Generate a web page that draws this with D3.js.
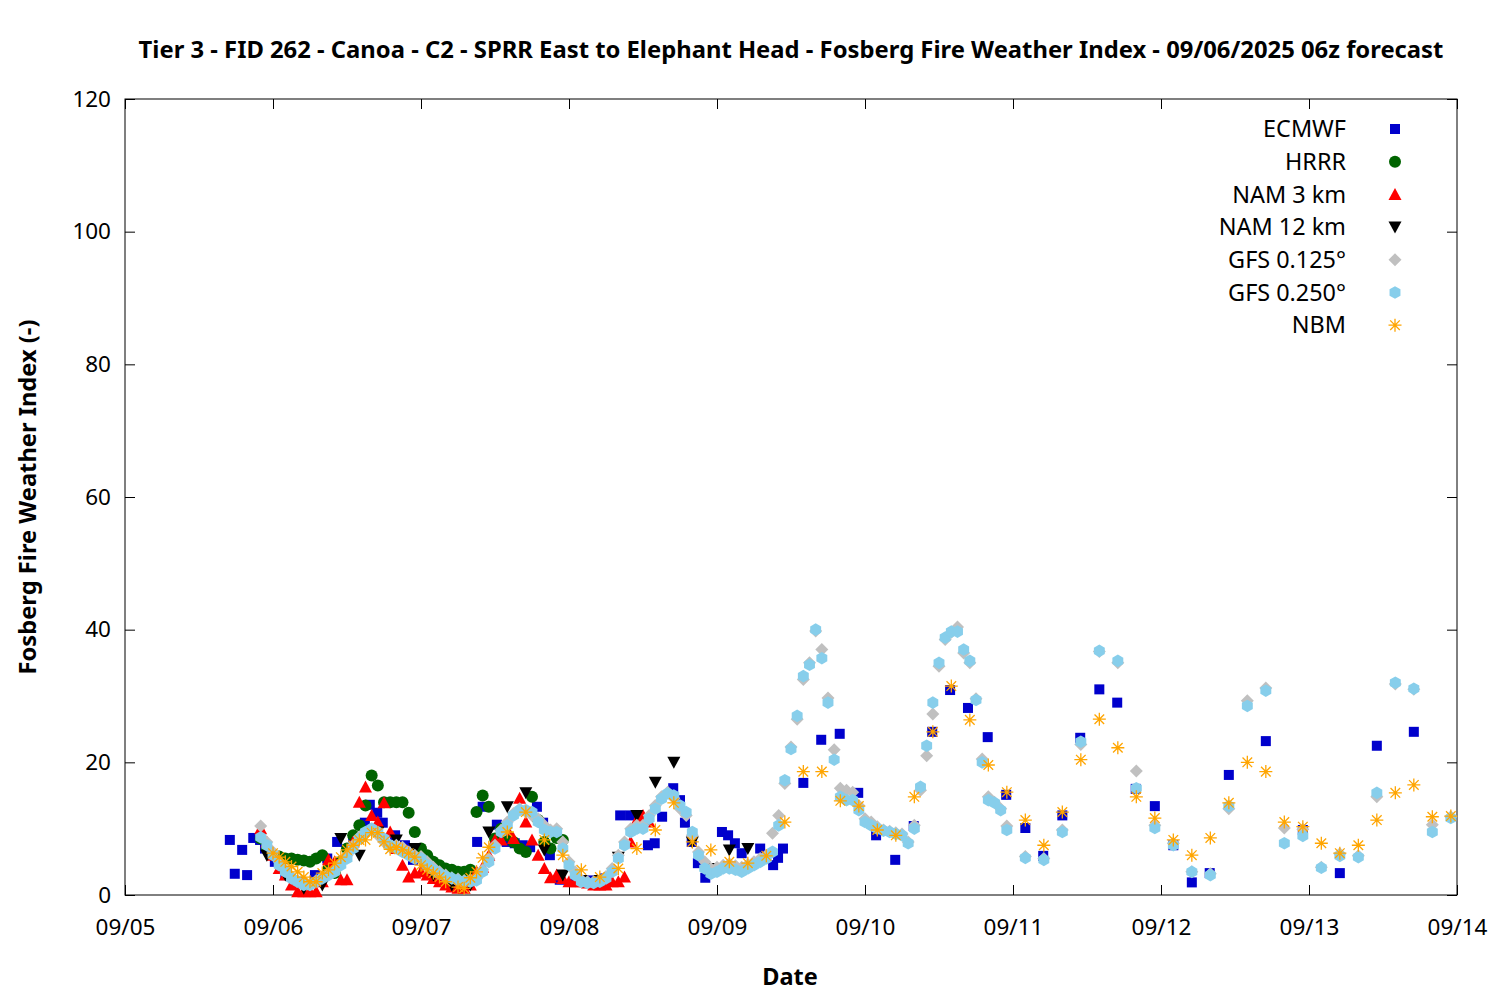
<!DOCTYPE html>
<html><head><meta charset="utf-8">
<script src="https://cdn.jsdelivr.net/npm/d3@7"></script>
<style>body{margin:0;background:#fff}</style></head>
<body><svg id="c" width="1500" height="1000"></svg>
<script>
// hours since 09/05 00z
const xTickLabels = ["09/05","09/06","09/07","09/08","09/09","09/10","09/11","09/12","09/13","09/14"];
const yTicks = [0,20,40,60,80,100,120];
const seriesNames = ["ECMWF","HRRR","NAM 3 km","NAM 12 km","GFS 0.125°","GFS 0.250°","NBM"];

const ecmwf = [[17,8.3],[17.8,3.2],[19,6.8],[19.8,3],[20.8,8.6],[21.9,8.3],[22.7,7],[24.3,5],[26,3],[28.4,2],[30.8,3],[32.8,5.5],[34.4,8],[37,8.7],[38.9,10.9],[39.7,13.6],[40.9,12.4],[41.8,10.9],[43.8,9],[45.4,7.5],[46.7,5.3],[48.6,4.5],[51,3],[53.5,2],[55.1,2.5],[57.1,8],[58,13.3],[60.3,10.6],[61.9,8],[63.2,7.8],[64.5,7.5],[65.7,7.2],[66.8,13.3],[67.8,10.9],[68.9,6],[70.5,2.3],[73,2],[75.4,2.2],[77.8,2.5],[80.3,12],[81.9,12],[84.8,7.5],[85.9,7.8],[87.1,11.8],[88.9,16.1],[90,14.3],[90.8,10.9],[91.9,8],[92.9,4.8],[94.1,2.6],[96.8,9.5],[97.8,9],[98.9,7.8],[100,6.3],[103,7],[105.1,4.5],[105.9,5.6],[106.7,7],[110,16.9],[112.9,23.4],[115.9,24.3],[118.9,15.4],[121.8,9],[124.9,5.3],[127.9,10.4],[130.9,24.6],[133.8,30.9],[136.7,28.2],[139.9,23.8],[142.9,15.1],[146,10.1],[148.9,5.9],[152,12],[154.9,23.7],[158,31],[160.9,29],[163.9,16],[167,13.4],[170,7.5],[173,1.9],[175.9,3.3],[179,18.1],[185,23.2],[191,9.8],[197,3.3],[203,22.5],[209,24.6]];

const hrrrStart = 22;
const hrrrValues = [8.5,7,6,5.8,5.5,5.5,5.3,5.2,5,5.5, 6,4,3.3,5,7,9,10.5,13.5,18,16.5, 14,14,14,14,12.4,9.5,7,6,5,4.5, 4,3.8,3.5,3.5,3.8,12.5,15,13.3,8.5,10, 9,8,7,6.5,14.8,11.3,8,7,8.6,8.3];

const nam3Start = 22;
const nam3Values = [10,8,6,4,3,1.5,0.5,0.5,0.5,0.5, 2,5.3,5,2.3,2.3,8,14,16.3,12,11, 13.9,9.5,7,4.5,2.7,3.3,3.5,3,2.5,2, 1.5,1.2,1,1,1.5,3.5,4.2,6,8.3,8.3, 9.8,8.5,14.6,11,8.3,6,4,2.6,3,2.5, 2,2,2,1.8,1.5,1.5,1.5,2,2,2.7, 8,11.3,12,11];

const nam12Start = 23;
const nam12Values = [6,3,1,1.5,8.5,6,9.5,8.3,7,3,1.5,1.5,9.5,13.3,15.4,6.8,3,2.2,2.2,5.7,12,17,20,8,4,6.8,7];

const gfs125Hourly = [10.4,8,6.5,5,3.8,2.8,2.2,1.8,1.6,2.2,2.8,3.3,3.8,4.8,6,7.5,8.8,9.2,9.8,9,8,7.2,7.5,7.2,6.5,6,
 5.8,5,4.2,3.5,3,2.6,2.4,2.2,2.3,2.5,3.8,5.5,7.5,9.8,11,12.3,13,12.5,12,11.5,10.5,9.8,10,8,
 5,3.5,2.3,2,2,2.2,2.8,4,6,8,10,10.5,10.5,12,13.5,14.8,15.5,14.6,13,12,9,6.5,5,4,4.2,4.5,4.7,4.4,4.2,4.6,5,5.5,6,9.3,
 12,16.8,22.3,26.5,32.5,35,39.8,37,29.7,21.9,16.1,15.8,15.5,13.5,11.5,11,10.3,9.8,9.6,9.4,9.2,8,10.5,15.8,21,27.3,34.5,38.5,39.6,40.4,36.5,35,29.6,20.5,14.8,14,13,10.4];
const gfs125ThreeHourly = [5.8,5.5,9.8,22.7,36.7,35,18.7,10.5,7.8,3.5,3.2,13,29.3,31.2,10.1,9.9,4.2,6.2,5.9,14.8,31.8,31,10.6,11.8];

const gfs250Hourly = [8.7,7.5,6,4.5,3.5,2.5,2,1.5,1.5,2,2.5,3,3.5,4.5,5.5,7,8.5,9.5,10,9.5,8.5,7.5,7,6.5,6,5.5,
 5.5,4.5,3.8,3.2,2.8,2.5,2.2,2,2,2.2,3.5,5,7,9.5,10.5,12,12.8,12.8,12.5,11,9.8,9.5,9.5,7,
 4.5,3,2,1.8,1.8,2,2.5,3.5,5.5,7.5,9.5,10,10,11.5,13,14.5,15.3,15,13.5,12.5,9.5,6,4,3.2,3.5,4,4,3.8,3.5,4,4.5,5,5.5,6.5,
 10.5,17.3,22,27,33,34.7,40,35.7,29,20.4,14.8,14.3,14.3,12.8,11,10.5,10,9.7,9.5,9.2,9,7.8,10,16.3,22.5,29,35,38.8,39.7,39.7,37,35.3,29.4,20,14.3,13.9,12.8,9.8];
const gfs250ThreeHourly = [5.6,5.3,9.5,23.1,36.8,35.3,16.1,10.1,7.5,3.5,3,13.4,28.5,30.8,7.8,8.9,4.1,5.9,5.7,15.4,32,31.1,9.5,11.6];
const gfsHourlyStart = 22, gfsThreeStart = 146;

const nbm = [[24,6.3],[25,5.7],[26,5],[27,4.3],[28,3.5],[29,2.7],[30,2],[31,2],[32,3.3],[33,3.8],[34,4.8],[35,5.7],[36,6.8],[37,7.5],[38,8.3],[39,8.3],[40,9.4],[41,9.4],[42,8],[43,6.9],[44,7.2],[45,6.8],[46,6.3],[47,5.7],[48,4.5],[49,3.8],[50,3.3],[51,2.7],[52,2],[54,1.2],[55,1],[56,2.6],[57,3.5],[58,5.6],[59,7.2],[62,9.5],[65,12.5],[68,8.3],[71,6],[74,3.8],[77,2.7],[80,4],[83,7],[86,9.8],[89,13.9],[92,8],[95,6.8],[98,5],[101,4.8],[104,5.9],[107,11],[110,18.6],[113,18.6],[116,14.2],[119,13.4],[122,9.8],[125,9],[128,14.8],[131,24.6],[134,31.5],[137,26.4],[140,19.6],[143,15.5],[146,11.3],[149,7.5],[152,12.5],[155,20.4],[158,26.5],[161,22.2],[164,14.8],[167,11.6],[170,8.3],[173,6],[176,8.6],[179,13.9],[182,20],[185,18.6],[188,11],[191,10.3],[194,7.8],[197,6.3],[200,7.5],[203,11.3],[206,15.4],[209,16.6],[212,11.8],[215,11.9]];

const hourly = (start, vals) => vals.map((v,i)=>[start+i, v]);
const every3 = (start, vals) => vals.map((v,i)=>[start+3*i, v]);

const data = [
  {name:seriesNames[0], pts: ecmwf, shape:"square", color:"#0000cc"},
  {name:seriesNames[1], pts: hourly(hrrrStart, hrrrValues), shape:"circle", color:"#006400"},
  {name:seriesNames[2], pts: hourly(nam3Start, nam3Values), shape:"tri", color:"#ff0000"},
  {name:seriesNames[3], pts: every3(nam12Start, nam12Values), shape:"tridown", color:"#000000"},
  {name:seriesNames[4], pts: hourly(gfsHourlyStart, gfs125Hourly).concat(every3(gfsThreeStart, gfs125ThreeHourly)), shape:"diamond", color:"#c0c0c0"},
  {name:seriesNames[5], pts: hourly(gfsHourlyStart, gfs250Hourly).concat(every3(gfsThreeStart, gfs250ThreeHourly)), shape:"hex", color:"#87ceeb"},
  {name:seriesNames[6], pts: nbm, shape:"star", color:"#ffa500"}
];

const L=125, R=1457, T=99, B=895;
const x = d3.scaleLinear().domain([0,216]).range([L,R]);
const y = d3.scaleLinear().domain([0,120]).range([B,T]);
const svg = d3.select("#c");
const font = "'Noto Sans', 'DejaVu Sans', sans-serif";

function mark(g, shape, color){
  if(shape==="square") g.append("rect").attr("x",-5).attr("y",-5).attr("width",10).attr("height",10).attr("fill",color);
  else if(shape==="circle") g.append("circle").attr("r",6).attr("fill",color);
  else if(shape==="tri") g.append("path").attr("d","M0,-6.5L6.5,5.5L-6.5,5.5Z").attr("fill",color);
  else if(shape==="tridown") g.append("path").attr("d","M0,6.5L6.5,-5.5L-6.5,-5.5Z").attr("fill",color);
  else if(shape==="diamond") g.append("path").attr("d","M0,-6.5L6.5,0L0,6.5L-6.5,0Z").attr("fill",color);
  else if(shape==="hex") g.append("path").attr("d",d3.line()(d3.range(6).map(i=>[6.3*Math.cos(i*Math.PI/3+Math.PI/6),6.3*Math.sin(i*Math.PI/3+Math.PI/6)]))+"Z").attr("fill",color);
  else if(shape==="star"){
    g.append("path").attr("d","M-6.5,0H6.5M0,-6.5V6.5M-4.8,-4.8L4.8,4.8M-4.8,4.8L4.8,-4.8").attr("stroke",color).attr("stroke-width",1.3).attr("fill","none");
  }
}

const xAxisB = d3.axisBottom(x).tickValues(d3.range(0,217,24)).tickFormat((d,i)=>xTickLabels[i]).tickSizeInner(-10).tickSizeOuter(0).tickPadding(24);
const xAxisT = d3.axisTop(x).tickValues(d3.range(0,217,24)).tickFormat("").tickSizeInner(-10).tickSizeOuter(0);
const yAxisL = d3.axisLeft(y).tickValues(yTicks).tickSizeInner(-10).tickSizeOuter(0).tickPadding(14);
const yAxisR = d3.axisRight(y).tickValues(yTicks).tickFormat("").tickSizeInner(-10).tickSizeOuter(0);
function styl(g){g.select(".domain").remove(); g.selectAll("text").attr("font-family",font).attr("font-size",22.5).attr("fill","#000"); g.selectAll("line").attr("stroke","#000");}
svg.append("g").attr("transform",`translate(0,${B})`).call(xAxisB).call(styl);
svg.append("g").attr("transform",`translate(0,${T})`).call(xAxisT).call(styl);
svg.append("g").attr("transform",`translate(${L},0)`).call(yAxisL).call(styl);
svg.append("g").attr("transform",`translate(${R},0)`).call(yAxisR).call(styl);
svg.append("rect").attr("x",L).attr("y",T).attr("width",R-L).attr("height",B-T).attr("fill","none").attr("stroke","#000");

const pg = svg.append("g");
data.forEach(s=>{
  s.pts.forEach(p=>{
    const g = pg.append("g").attr("transform",`translate(${x(p[0])},${y(p[1])})`);
    mark(g, s.shape, s.color);
  });
});

data.forEach((s,i)=>{
  const yy = 129 + i*32.7;
  svg.append("text").attr("x",1346).attr("y",yy).attr("dy","0.35em").attr("text-anchor","end")
    .attr("font-family",font).attr("font-size",23.4).text(s.name);
  mark(svg.append("g").attr("transform",`translate(1395,${yy})`), s.shape, s.color);
});

svg.append("text").attr("x",791).attr("y",58).attr("text-anchor","middle").attr("font-family",font).attr("font-weight","bold").attr("font-size",23.8)
  .text("Tier 3 - FID 262 - Canoa - C2 - SPRR East to Elephant Head - Fosberg Fire Weather Index - 09/06/2025 06z forecast");
svg.append("text").attr("x",790).attr("y",985).attr("text-anchor","middle").attr("font-family",font).attr("font-weight","bold").attr("font-size",23.5).text("Date");
svg.append("text").attr("transform","translate(36,497) rotate(-90)").attr("text-anchor","middle").attr("font-family",font).attr("font-weight","bold").attr("font-size",23.7).text("Fosberg Fire Weather Index (-)");
</script></body></html>
